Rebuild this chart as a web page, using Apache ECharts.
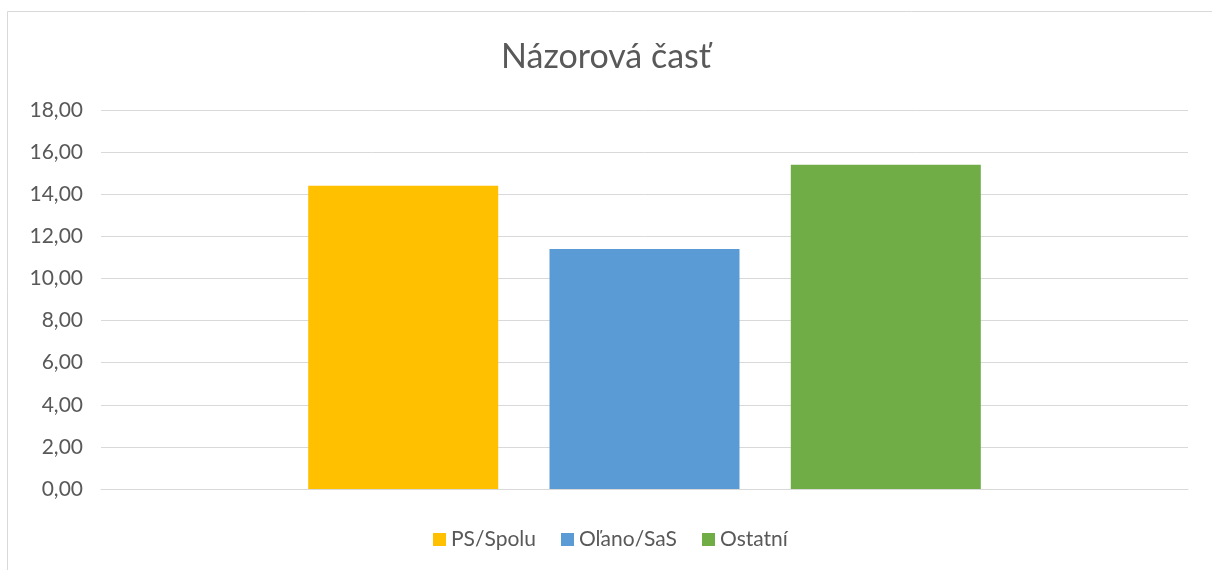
<!DOCTYPE html>
<html>
<head>
<meta charset="utf-8">
<script src="https://cdn.jsdelivr.net/npm/echarts@6/dist/echarts.min.js"></script>
<style>
	html, body { margin: 0; padding: 0; background: #fff; overflow: hidden; }
	#chart { width: 1212px; height: 570px; }
</style>
</head>
<body>
<div id="chart"></div>
<script>
	var seriesNames = ["PS/Spolu", "Oľano/SaS", "Ostatní"];
	var seriesValues = [14.4, 11.4, 15.4];
	var colorList = ["#ffc000", "#5b9bd5", "#70ad47"];
	var categories = [""];

	var myChart = echarts.init(document.getElementById("chart"));

	var series = seriesNames.map(function (name, i) {
		return {
			name: name,
			type: "bar",
			data: [seriesValues[i]],
			barWidth: 190,
			barGap: "27%",
			itemStyle: { color: colorList[i] },
		};
	});

	var option = {
		animation: false,
		textStyle: { fontFamily: "Lato" },
		title: {
			text: "Názorová časť",
			left: "center",
			top: 35,
			textStyle: {
				color: "#595959",
				fontSize: 34,
				fontWeight: "normal",
				fontFamily: "Lato",
			},
		},
		// rámček okolo grafu
		graphic: [
			{
				type: "rect",
				shape: { x: 7.5, y: 11.5, width: 1300, height: 700 },
				style: { fill: "none", stroke: "#d9d9d9", lineWidth: 1 },
				silent: true,
			},
		],
		legend: {
			bottom: 15,
			left: 428,
			icon: "rect",
			itemWidth: 13,
			itemHeight: 13,
			itemGap: 25,
			textStyle: { color: "#595959", fontSize: 21, fontFamily: "Lato" },
			data: seriesNames,
		},
		grid: {
			left: 101,
			right: 24,
			top: 110,
			bottom: 81,
			containLabel: false,
		},
		xAxis: {
			type: "category",
			data: categories,
			axisLine: { lineStyle: { color: "#d9d9d9" } },
			axisTick: { show: false },
			axisLabel: { show: false },
		},
		yAxis: {
			type: "value",
			min: 0,
			max: 18,
			interval: 2,
			axisLine: { show: false },
			axisTick: { show: false },
			splitLine: { lineStyle: { color: "#d9d9d9" } },
			axisLabel: {
				color: "#595959",
				fontSize: 21,
				margin: 18,
				fontFamily: "Lato",
				formatter: function (v) {
					return v.toFixed(2).replace(".", ",");
				},
			},
		},
		series: series,
	};
	myChart.setOption(option);
</script>
</body>
</html>
